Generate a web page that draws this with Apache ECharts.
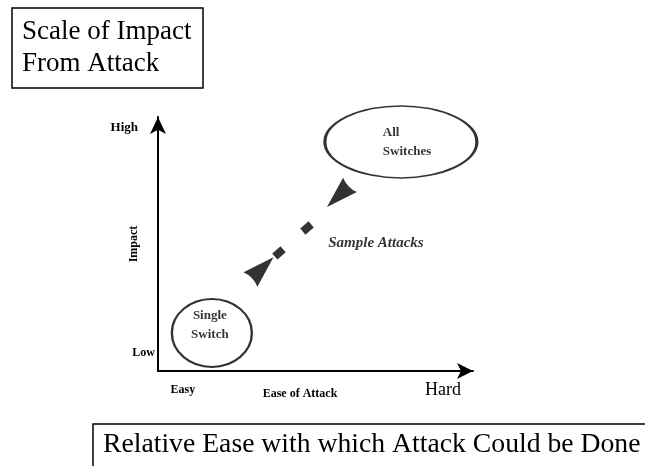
<!DOCTYPE html>
<html>
<head>
<meta charset="utf-8">
<script src="https://cdn.jsdelivr.net/npm/echarts@6/dist/echarts.min.js"></script>
<style>
html, body { margin: 0; padding: 0; background: #fff; }
#impactChart { width: 645px; height: 466px; }
</style>
</head>
<body>
<div id="impactChart"></div>
<script>
// scale 0..10 on both axes (ease of attack / impact)
var nodeNames = ['Single\nSwitch', 'All\nSwitches'];
var nodeEase = [1.71, 7.71];
var nodeImpact = [1.5, 9.02];

// the dashed two-headed arrow between the nodes
var arrowEase = [3.3, 5.73];
var arrowImpact = [4.04, 6.89];
var dashEase = [3.84, 4.73];
var dashImpact = [4.65, 5.63];

var noteText = ['Sample Attacks'];
var noteEase = [6.92];
var noteImpact = [5.04];

var xTickLabels = ['Easy', 'Hard'];
var xTickValues = [0.79, 9.05];
var yTickLabels = ['Low', 'High'];
var yTickValues = [0.71, 9.6];

var serif = 'Liberation Serif';

function impactChart(){

    var nodeData = nodeNames.map(function(n, i){
        return {
            name: n,
            value: [nodeEase[i], nodeImpact[i]],
            symbolSize: i === 0 ? [80, 68] : [152, 72],
            label: i === 0 ? {offset: [-2, -8], align: 'center'} : {offset: [-18, 0], align: 'left'}
        };
    });

    var arrowData = arrowEase.map(function(x, i){
        return {value: [x, arrowImpact[i]], symbolRotate: i === 0 ? -46 : 134};
    });

    var dashData = dashEase.map(function(x, i){
        return [x, dashImpact[i]];
    });

    var noteData = noteText.map(function(t, i){
        return {name: t, value: [noteEase[i], noteImpact[i]]};
    });

    impactOption = {
        backgroundColor: '#fff',
        animation: false,
        title: [
            {
                text: 'Scale of Impact\nFrom Attack',
                left: 12,
                top: 8,
                padding: [8, 12, 8, 10],
                borderColor: '#000',
                borderWidth: 1.5,
                textStyle: {
                    fontFamily: serif,
                    fontWeight: 'normal',
                    fontSize: 27,
                    lineHeight: 32,
                    color: '#000'
                }
            },
            {
                text: 'Relative Ease with which Attack Could be Done',
                left: 93,
                top: 424,
                padding: [7, 40, 30, 10],
                borderColor: '#000',
                borderWidth: 1.5,
                textStyle: {
                    fontFamily: serif,
                    fontWeight: 'normal',
                    fontSize: 27.7,
                    color: '#000'
                }
            }
        ],
        grid: {
            left: 158,
            top: 117,
            right: 172,
            bottom: 95
        },
        xAxis: {
            type: 'value',
            min: 0,
            max: 10,
            name: 'Ease of Attack',
            nameLocation: 'middle',
            nameGap: 17,
            nameMoveOverlap: false,
            nameTextStyle: {
                fontFamily: serif,
                fontWeight: 'bold',
                fontSize: 12,
                color: '#000',
                padding: [0, 31, 0, 0]
            },
            axisLine: {
                symbol: ['none', 'arrow'],
                symbolSize: [12, 16],
                lineStyle: {color: '#000', width: 2}
            },
            axisTick: {show: false},
            splitLine: {show: false},
            axisLabel: {
                customValues: xTickValues,
                margin: 10,
                formatter: function(v){
                    var i = xTickValues.indexOf(v);
                    return i === 1 ? '{h|' + xTickLabels[i] + '}' : '{e|' + xTickLabels[i] + '}';
                },
                rich: {
                    e: {fontFamily: serif, fontWeight: 'bold', fontSize: 12, color: '#000', padding: [3, 0, 0, 0]},
                    h: {fontFamily: serif, fontSize: 18, color: '#000'}
                }
            }
        },
        yAxis: {
            type: 'value',
            min: 0,
            max: 10,
            name: 'Impact',
            nameLocation: 'middle',
            nameRotate: 90,
            nameGap: 18,
            nameMoveOverlap: false,
            nameTextStyle: {
                fontFamily: serif,
                fontWeight: 'bold',
                fontSize: 12,
                color: '#000'
            },
            axisLine: {
                symbol: ['none', 'arrow'],
                symbolSize: [12, 17],
                lineStyle: {color: '#000', width: 2}
            },
            axisTick: {show: false},
            splitLine: {show: false},
            axisLabel: {
                customValues: yTickValues,
                margin: 3,
                formatter: function(v){
                    var i = yTickValues.indexOf(v);
                    return i === 1 ? '{hi|' + yTickLabels[i] + '}' : '{lo|' + yTickLabels[i] + '}';
                },
                rich: {
                    lo: {fontFamily: serif, fontWeight: 'bold', fontSize: 12, color: '#000'},
                    hi: {fontFamily: serif, fontWeight: 'bold', fontSize: 13, color: '#000', padding: [0, 17, 0, 0]}
                }
            }
        },
        series: [
            {
                name: 'nodes',
                type: 'scatter',
                symbol: 'circle',
                data: nodeData,
                itemStyle: {
                    color: 'rgba(0,0,0,0)',
                    borderColor: '#000',
                    borderWidth: 2.2
                },
                label: {
                    show: true,
                    position: 'inside',
                    formatter: '{b}',
                    fontFamily: serif,
                    fontWeight: 'bold',
                    fontSize: 13,
                    lineHeight: 19,
                    color: '#000'
                }
            },
            {
                name: 'arrowheads',
                type: 'scatter',
                symbol: 'path://M10,0 L20,32 Q10,28 0,32 Z',
                symbolSize: [20, 32],
                data: arrowData,
                itemStyle: {color: '#000'}
            },
            {
                name: 'dashes',
                type: 'scatter',
                symbol: 'rect',
                symbolSize: [8, 11],
                symbolRotate: -49,
                data: dashData,
                itemStyle: {color: '#000'}
            },
            {
                name: 'note',
                type: 'scatter',
                symbolSize: 0,
                data: noteData,
                label: {
                    show: true,
                    position: 'inside',
                    formatter: '{b}',
                    fontFamily: serif,
                    fontStyle: 'italic',
                    fontWeight: 'bold',
                    fontSize: 15,
                    color: '#000'
                }
            }
        ]
    };

    var impactInit = echarts.init(document.getElementById('impactChart'));
    impactInit.setOption(impactOption);
}

impactChart();
</script>
</body>
</html>
